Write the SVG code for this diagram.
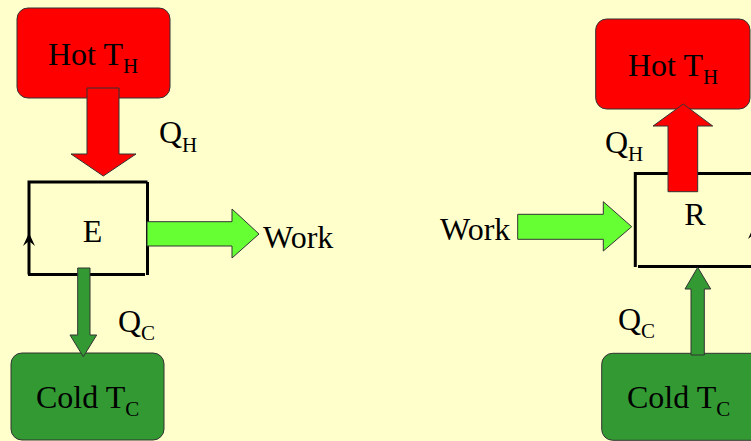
<svg xmlns="http://www.w3.org/2000/svg" width="751" height="441" viewBox="0 0 751 441">
<style>
.t{font-family:"Liberation Serif","Times New Roman",serif;font-size:32px;fill:#000}
.s{font-size:21px}
.hot{fill:#FF0000;stroke:#333;stroke-width:1}
.cold{fill:#339933;stroke:#333;stroke-width:1}
.work{fill:#66FF33;stroke:#333;stroke-width:1}
.ln{fill:none;stroke:#000;stroke-width:3}
</style>
<rect width="751" height="441" fill="#FFFFCC"/>
<g id="engine-box">
<path class="ln" d="M29,274.5 L29,182 L147.5,182"/>
<path class="ln" d="M147.5,182 L147.5,275"/>
<path class="ln" d="M28,274.5 L145,274.5"/>
<polygon points="29,233 35,246 29,241 23,246" fill="#000"/>
<text class="t" x="92.5" y="241.5" text-anchor="middle">E</text>
</g>
<g id="hot-left">
<rect class="hot" x="17" y="8" width="153" height="90" rx="11"/>
<text class="t" x="48" y="65">Hot T<tspan class="s" dy="8">H</tspan></text>
</g>
<g id="cold-left">
<rect class="cold" x="11" y="353" width="153" height="87" rx="11"/>
<text class="t" x="36" y="408">Cold T<tspan class="s" dy="8">C</tspan></text>
</g>
<g id="fridge-box">
<path class="ln" d="M635.3,267 L635.3,173.5 L753,173.5"/>
<path class="ln" d="M638,266.5 L753,266.5"/>
<polygon points="754,226 760,239 754,234 748,239" fill="#000"/>
<text class="t" x="695" y="225" text-anchor="middle">R</text>
</g>
<g id="hot-right">
<rect class="hot" x="595.7" y="19" width="154.3" height="90" rx="11"/>
<text class="t" x="628" y="76">Hot T<tspan class="s" dy="8">H</tspan></text>
</g>
<g id="cold-right">
<rect class="cold" x="601.7" y="353.3" width="180" height="87" rx="11"/>
<text class="t" x="627" y="408.3">Cold T<tspan class="s" dy="8">C</tspan></text>
</g>
<g id="connectors">
<polygon class="hot" points="87,88 119,88 119,154 136,154 103.3,176 71,154 87,154"/>
<polygon class="work" points="147,221.7 232,221.7 232,209 259,234 232,258 232,246 147,246"/>
<polygon class="cold" points="77.7,268 90,268 90,335 96.7,335 83.3,356.7 70,335 77.7,335"/>
<polygon class="hot" points="668,191.7 668,126 653,126 683.3,104 712.7,126 697.7,126 697.7,191.7"/>
<polygon class="work" points="517.7,214.3 603.3,214.3 603.3,201.7 631.7,226.7 603.3,251 603.3,239.3 517.7,239.3"/>
<polygon class="cold" points="691,355 691,289 685,289 697.7,267.3 710.7,289 704.3,289 704.3,355"/>
<text class="t" x="159" y="142.7">Q<tspan class="s" dy="9">H</tspan></text>
<text class="t" x="263" y="248.3">Work</text>
<text class="t" x="118" y="331.7">Q<tspan class="s" dy="8">C</tspan></text>
<text class="t" x="605" y="153.3">Q<tspan class="s" dy="8">H</tspan></text>
<text class="t" x="440" y="240">Work</text>
<text class="t" x="618" y="330">Q<tspan class="s" dy="8">C</tspan></text>
</g>
</svg>
